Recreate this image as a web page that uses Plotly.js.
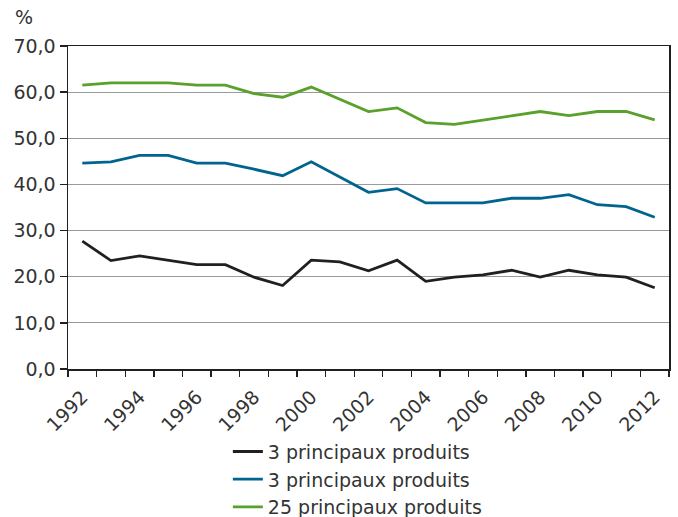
<!DOCTYPE html>
<html>
<head>
<meta charset="utf-8">
<script src="https://cdn.plot.ly/plotly-3.0.1.min.js"></script>
<style>html,body{margin:0;padding:0;background:#fff;}#chart{width:678px;height:517px;}</style>
</head>
<body>
<div id="chart"></div>
<script>
var years = [1992,1993,1994,1995,1996,1997,1998,1999,2000,2001,2002,2003,2004,2005,2006,2007,2008,2009,2010,2011,2012];
var seriesNames = ["3 principaux produits", "3 principaux produits", "25 principaux produits"];
var blackValues = [27.7,23.5,24.5,23.6,22.6,22.6,19.9,18.1,23.6,23.2,21.3,23.6,19.0,19.9,20.4,21.4,19.9,21.4,20.4,19.9,17.6];
var blueValues  = [44.6,44.9,46.3,46.3,44.6,44.6,43.3,41.9,44.9,41.6,38.3,39.1,36.0,36.0,36.0,37.0,37.0,37.8,35.6,35.2,32.9];
var greenValues = [61.5,62.0,62.0,62.0,61.5,61.5,59.7,58.9,61.1,58.4,55.8,56.6,53.4,53.0,53.9,54.8,55.8,54.9,55.8,55.8,54.0];
var xTickVals = [1992,1994,1996,1998,2000,2002,2004,2006,2008,2010,2012];
var xTickText = ["1992","1994","1996","1998","2000","2002","2004","2006","2008","2010","2012"];

var fontFam = "DejaVu Sans, sans-serif";
var txt = '#333333';
function tr(y, name, color){
  return {x: years, y: y, name: name, type: 'scatter', mode: 'lines',
          line: {color: color, width: 2.8}, hoverinfo: 'skip'};
}
var data = [
  tr(blackValues, seriesNames[0], '#231f20'),
  tr(blueValues, seriesNames[1], '#00648f'),
  tr(greenValues, seriesNames[2], '#5aa02c')
];
var layout = {
  width: 678, height: 517,
  margin: {l: 68, r: 9, t: 46, b: 148, autoexpand: false},
  paper_bgcolor: '#fff', plot_bgcolor: '#fff',
  separators: ', ',
  font: {family: fontFam, size: 19, color: txt},
  showlegend: true,
  legend: {x: 0.266, xanchor: 'left', y: -0.197, yanchor: 'top', orientation: 'v',
           font: {family: fontFam, size: 19, color: txt}, tracegroupgap: 0,
           bgcolor: 'rgba(0,0,0,0)'},
  xaxis: {
    range: [1991.5, 2012.5], tickmode: 'array', tickvals: xTickVals, ticktext: xTickText,
    ticks: '', tickangle: -45, showgrid: false, zeroline: false, ticklabelstandoff: 8,
    showline: true, linecolor: '#231f20', linewidth: 1.5, mirror: true,
    tickfont: {family: fontFam, size: 19, color: txt},
    minor: {tick0: 1991.5, dtick: 1, ticks: 'outside', ticklen: 6, tickcolor: '#231f20', tickwidth: 1.3, showgrid: false}
  },
  yaxis: {
    range: [0, 70], dtick: 10, tick0: 0, tickformat: '.1f',
    ticks: 'outside', ticklen: 7, tickcolor: '#231f20', tickwidth: 1.3,
    showgrid: true, gridcolor: '#9a9a9a', gridwidth: 1.2, zeroline: false,
    showline: true, linecolor: '#231f20', linewidth: 1.5, mirror: true,
    tickfont: {family: fontFam, size: 19, color: txt}
  },
  annotations: [{text: '%', xref: 'paper', yref: 'paper', x: -0.092, y: 1.09,
                 xanchor: 'left', yanchor: 'middle', showarrow: false,
                 font: {family: fontFam, size: 19, color: txt}}]
};
Plotly.newPlot('chart', data, layout, {staticPlot: true, displayModeBar: false});
</script>
</body>
</html>
